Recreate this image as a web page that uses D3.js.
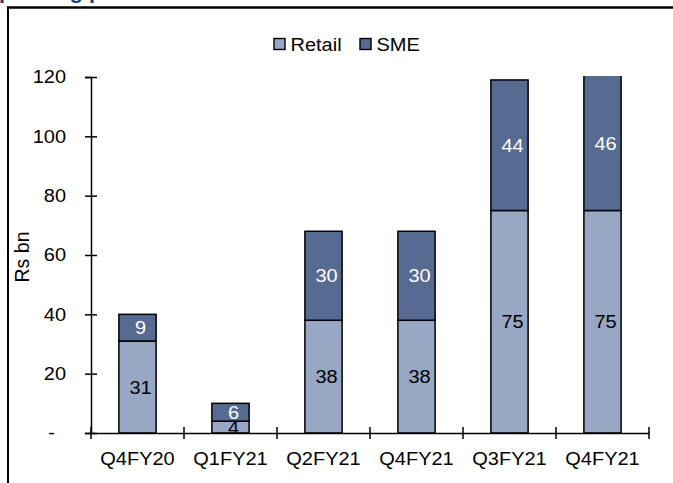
<!DOCTYPE html>
<html>
<head>
<meta charset="utf-8">
<script src="https://cdn.jsdelivr.net/npm/d3@7"></script>
<style>
  html, body { margin: 0; padding: 0; background: #fff; }
  svg { display: block; font-family: "Liberation Sans", Arial, sans-serif; }
</style>
</head>
<body>
<svg id="chart" width="673" height="483"></svg>
<script>
// Quarterly disbursements, Rs bn, split by segment
const categories = ["Q4FY20", "Q1FY21", "Q2FY21", "Q4FY21", "Q3FY21", "Q4FY21"];
const retail = [31, 4, 38, 38, 75, 75];
const sme = [9, 6, 30, 30, 44, 46];
const seriesNames = ["Retail", "SME"];
const seriesColors = ["#97A7C4", "#566A92"];
const labelColors = ["#000", "#fff"];
const yTickValues = [0, 20, 40, 60, 80, 100, 120];
const yTickLabels = ["-", "20", "40", "60", "80", "100", "120"];

const SX = 1.08;         // horizontal text stretch
const FS = 18.5;         // base font size

const svg = d3.select("#chart");

const x = d3.scaleBand().domain(d3.range(categories.length)).range([91, 649]);
const y = d3.scaleLinear().domain([0, 120]).range([433, 77]);
const barW = x.bandwidth() * 0.4;

// stretch a text element horizontally around its anchor point
function stretch(sel) {
  sel.each(function () {
    const t = d3.select(this);
    const tx = +t.attr("x") || 0, ty = +t.attr("y") || 0;
    t.attr("x", 0).attr("y", 0)
     .attr("transform", `translate(${tx},${ty}) scale(${SX},1)`);
  });
}

// heading above the frame (runs off the top of the page)
svg.append("text")
  .attr("x", -1).attr("y", -1.5)
  .attr("font-size", 20).attr("font-weight", "bold")
  .attr("fill", "#1F3C78")
  .text("pending pace")
  .call(stretch);

// frame
svg.append("line").attr("x1", 7).attr("x2", 673).attr("y1", 7.5).attr("y2", 7.5)
  .attr("stroke", "#000").attr("stroke-width", 2.5);
svg.append("line").attr("x1", 8).attr("x2", 8).attr("y1", 6.5).attr("y2", 483)
  .attr("stroke", "#000").attr("stroke-width", 2);

// plot clip
svg.append("clipPath").attr("id", "plotClip")
  .append("rect").attr("x", 80).attr("y", 76).attr("width", 580).attr("height", 370);

const rows = categories.map((c, i) => ({ i, Retail: retail[i], SME: sme[i] }));
const stacked = d3.stack().keys(seriesNames)(rows);

const plot = svg.append("g").attr("clip-path", "url(#plotClip)");

stacked.forEach((layer, k) => {
  plot.append("g").selectAll("rect").data(layer).join("rect")
    .attr("x", d => x(d.data.i) + (x.bandwidth() - barW) / 2)
    .attr("y", d => y(d[1]))
    .attr("width", barW)
    .attr("height", d => y(d[0]) - y(d[1]))
    .attr("fill", seriesColors[k])
    .attr("stroke", "#000")
    .attr("stroke-width", 1.5);

  plot.append("g").selectAll("text").data(layer).join("text")
    .attr("x", d => x(d.data.i) + x.bandwidth() / 2 + 3)
    .attr("y", d => (y(d[0]) + y(Math.min(d[1], 120.5))) / 2)
    .attr("dy", "0.36em")
    .attr("text-anchor", "middle")
    .attr("font-size", FS)
    .attr("fill", labelColors[k])
    .text(d => d.data[layer.key])
    .call(stretch);
});

// y axis
const yAxis = svg.append("g").attr("transform", "translate(91,0)")
  .call(d3.axisLeft(y).tickValues(yTickValues).tickSize(6).tickPadding(19)
    .tickFormat((d, i) => yTickLabels[i]));
yAxis.select(".domain").attr("stroke", "#000").attr("stroke-width", 1.5);
yAxis.selectAll(".tick line").attr("x2", 6).attr("x1", -6)
  .attr("stroke", "#000").attr("stroke-width", 1.5);
yAxis.selectAll(".tick text")
  .attr("font-size", FS).attr("fill", "#000").attr("font-family", null)
  .attr("x", (d, i) => yTickLabels[i] === "-" ? -36 : -25)
  .call(stretch);

// x axis
const xAxis = svg.append("g").attr("transform", `translate(0,${y(0)})`)
  .call(d3.axisBottom(x).tickSize(0).tickPadding(19).tickFormat(i => categories[i]));
xAxis.select(".domain").attr("stroke", "#000").attr("stroke-width", 1.5);
xAxis.selectAll(".tick text")
  .attr("font-size", FS).attr("fill", "#000").attr("font-family", null)
  .each(function () {
    const t = d3.select(this);
    const ty = +t.attr("y");
    t.attr("y", 0).attr("transform", `translate(0,${ty}) scale(${SX},1)`);
  });
// category boundary ticks
const bounds = d3.range(categories.length + 1).map(i => x.range()[0] + i * x.step());
xAxis.append("g").selectAll("line").data(bounds).join("line")
  .attr("x1", d => d).attr("x2", d => d)
  .attr("y1", -6).attr("y2", 6)
  .attr("stroke", "#000").attr("stroke-width", 1.5);

// y axis title
svg.append("text")
  .attr("transform", `translate(22,${y(60) + 2}) rotate(-90)`)
  .attr("text-anchor", "middle").attr("dy", "0.35em")
  .attr("font-size", 19.5).attr("fill", "#000")
  .text("Rs bn");

// legend
const legendX = [274, 360];
seriesNames.forEach((name, k) => {
  svg.append("rect")
    .attr("x", legendX[k]).attr("y", 38.5).attr("width", 11).attr("height", 11)
    .attr("fill", seriesColors[k]).attr("stroke", "#000").attr("stroke-width", 1.4);
  svg.append("text")
    .attr("x", legendX[k] + 16.5).attr("y", 50.5)
    .attr("font-size", FS).attr("fill", "#000")
    .text(name)
    .call(stretch);
});
</script>
</body>
</html>
